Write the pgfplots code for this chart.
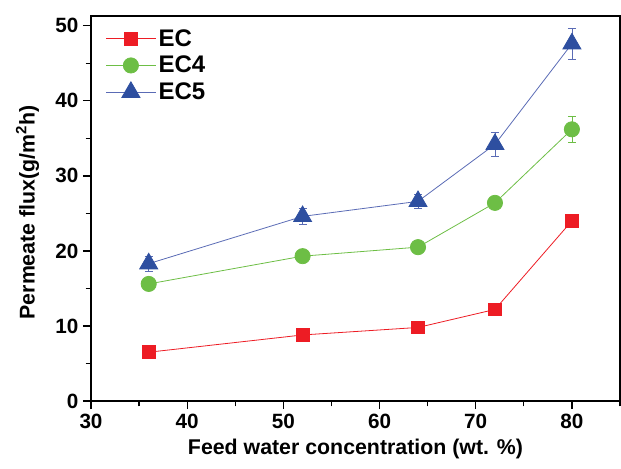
\documentclass[border=0pt]{standalone}
\usepackage{fontspec}
\setmainfont{Liberation Sans}
\usepackage{pgfplots}
\pgfplotsset{compat=1.18}
\definecolor{ecred}{HTML}{ED1C24}
\definecolor{ecgreen}{HTML}{6DBE45}
\definecolor{ecblue}{HTML}{2E4FA0}
\definecolor{ecblueline}{HTML}{5A6BB5}
\begin{document}
\begin{tikzpicture}
\path[use as bounding box] (-68.25pt,-50.25pt) rectangle (397.5pt,300.75pt);
\begin{axis}[
  at={(0pt,0pt)}, anchor=south west,
  scale only axis,
  width=396.75pt, height=288.75pt,
  xmin=30, xmax=85, ymin=0, ymax=51.3,
  xtick={30,40,50,60,70,80},
  ytick={0,10,20,30,40,50},
  extra x ticks={35,45,55,65,75,85},
  extra x tick labels={},
  extra y ticks={5,15,25,35,45},
  extra y tick labels={},
  extra tick style={major tick length=4pt},
  tick align=outside,
  xtick pos=bottom, ytick pos=left,
  major tick length=6pt,
  every tick/.style={black, line width=1pt},
  axis line style={line width=1.3pt},
  /pgf/number format/assume math mode=true,
  ticklabel style={font=\fontsize{15.5}{17}\selectfont\bfseries},
  xlabel={Feed water concentration (wt. \%)},
  ylabel={Permeate flux(g/m\textsuperscript{2}h)},
  every axis x label/.style={at={(axis description cs:0.5,-0.125)}, anchor=center, font=\fontsize{16}{18}\selectfont\bfseries},
  every axis y label/.style={at={(axis description cs:-0.12,0.49)}, rotate=90, anchor=center, font=\fontsize{16}{18}\selectfont\bfseries},
  legend style={draw=none, fill=none, at={(axis description cs:0.02,0.98)}, anchor=north west,
    font=\fontsize{18}{20}\selectfont\bfseries, row sep=2pt},
  legend cell align=left,
  legend image code/.code={\draw[mark repeat=2,mark phase=2] plot coordinates {(0cm,0cm) (0.65cm,0cm) (1.3cm,0cm)};},
  clip=false,
]
\addplot[color=ecred, line width=0.6pt, mark=square*, mark size=4.8pt,
  mark options={solid, fill=ecred, draw=ecred},
  error bars/.cd, y dir=both, y explicit,
  error bar style={ecred, line width=0.6pt}, error mark options={ecred, rotate=90, mark size=3pt, line width=0.6pt}]
coordinates {
 (36,6.5) +- (0,0.3)
 (52,8.8) +- (0,0.3)
 (64,9.8) +- (0,0.3)
 (72,12.2) +- (0,0.4)
 (80,24.0) +- (0,0.4)
};
\addlegendentry{\textbf{EC}}
\addplot[color=ecgreen, line width=0.6pt, mark=*, mark size=5.7pt,
  mark options={solid, fill=ecgreen, draw=ecgreen},
  error bars/.cd, y dir=both, y explicit,
  error bar style={ecgreen, line width=0.6pt}, error mark options={ecgreen, rotate=90, mark size=3pt, line width=0.6pt}]
coordinates {
 (36,15.6) +- (0,0.5)
 (52,19.3) +- (0,0.5)
 (64,20.5) +- (0,0.6)
 (72,26.4) +- (0,0.8)
 (80,36.2) +- (0,1.7)
};
\addlegendentry{\textbf{EC4}}
\addplot[color=ecblueline, line width=0.6pt, mark=triangle*, mark size=7.8pt,
  mark options={solid, fill=ecblue, draw=ecblue},
  error bars/.cd, y dir=both, y explicit,
  error bar style={ecblueline, line width=0.6pt}, error mark options={ecblueline, rotate=90, mark size=3pt, line width=0.6pt}]
coordinates {
 (36,18.3) +- (0,1.0)
 (52,24.6) +- (0,1.1)
 (64,26.6) +- (0,0.9)
 (72,34.2) +- (0,1.6)
 (80,47.6) +- (0,2.1)
};
\addlegendentry{\textbf{EC5}}
\end{axis}
\end{tikzpicture}
\end{document}
